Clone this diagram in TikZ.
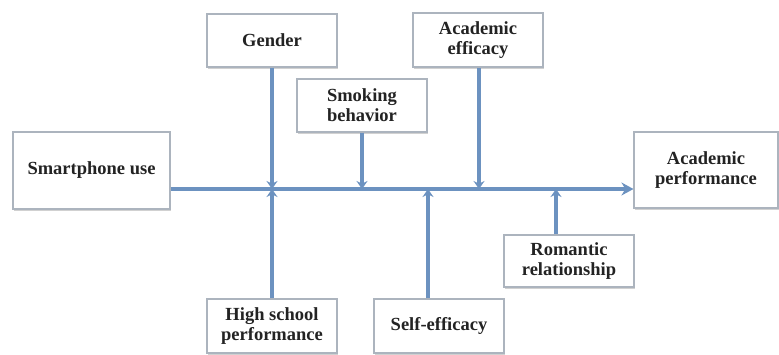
\documentclass[tikz,border=0pt]{standalone}
\usepackage{fontspec}
\setmainfont{Liberation Serif}
\usetikzlibrary{arrows.meta,shadows}
\definecolor{linkblue}{RGB}{108,146,192}
\definecolor{boxgray}{RGB}{172,180,190}
\definecolor{txt}{RGB}{35,35,35}
\tikzset{
  box/.style={draw=boxgray, line width=1.1pt, fill=white, align=center,
    inner sep=0pt, text=txt,
    font=\fontsize{18.5}{20}\selectfont\bfseries,
    drop shadow={shadow xshift=0.8pt, shadow yshift=-1.6pt, fill=black!30, opacity=0.6}},
  link/.style={draw=linkblue, line width=3.2pt},
  feed/.style={link, -{Stealth[length=8pt, width=11pt]}},
  mainarrow/.style={link, -{Stealth[length=12pt, width=13pt]}}
}
\begin{document}
\begin{tikzpicture}[x=1pt, y=-1pt]
\useasboundingbox (0,0) rectangle (779,354);
% boxes: center (x,y), size
\node[box, minimum width=157pt, minimum height=77pt] (smart) at (91.5,170.5) {Smartphone use};
\node[box, minimum width=130pt, minimum height=53pt] (gender) at (272,40.5) {Gender};
\node[box, minimum width=130pt, minimum height=53pt] (smoking) at (362,105.5) {Smoking\\behavior};
\node[box, minimum width=130pt, minimum height=54pt] (acadeff) at (478,40) {Academic\\efficacy};
\node[box, minimum width=144pt, minimum height=76pt] (acadperf) at (706,170) {Academic\\performance};
\node[box, minimum width=130pt, minimum height=54pt] (hsp) at (272,326) {High school\\performance};
\node[box, minimum width=130pt, minimum height=54pt] (selfeff) at (439,326) {Self-efficacy};
\node[box, minimum width=130pt, minimum height=52pt] (romantic) at (569,261) {Romantic\\relationship};
% junctions on the main line
\coordinate (jg) at (272,189);
\coordinate (jsm) at (362,189);
\coordinate (jse) at (428,189);
\coordinate (jae) at (479,189);
\coordinate (jro) at (556,189);
\coordinate (mstart) at (smart.east |- jg);
\coordinate (mend) at (acadperf.west |- jg);
% main arrow
\draw[mainarrow] (mstart) -- (mend);
% feeding lines
\draw[feed] (gender.south) -- (jg);
\draw[feed] (hsp.north) -- (jg);
\draw[feed] (smoking.south) -- (jsm);
\draw[feed] (jse |- selfeff.north) -- (jse);
\draw[feed] (jae |- acadeff.south) -- (jae);
\draw[feed] (jro |- romantic.north) -- (jro);
\end{tikzpicture}
\end{document}
